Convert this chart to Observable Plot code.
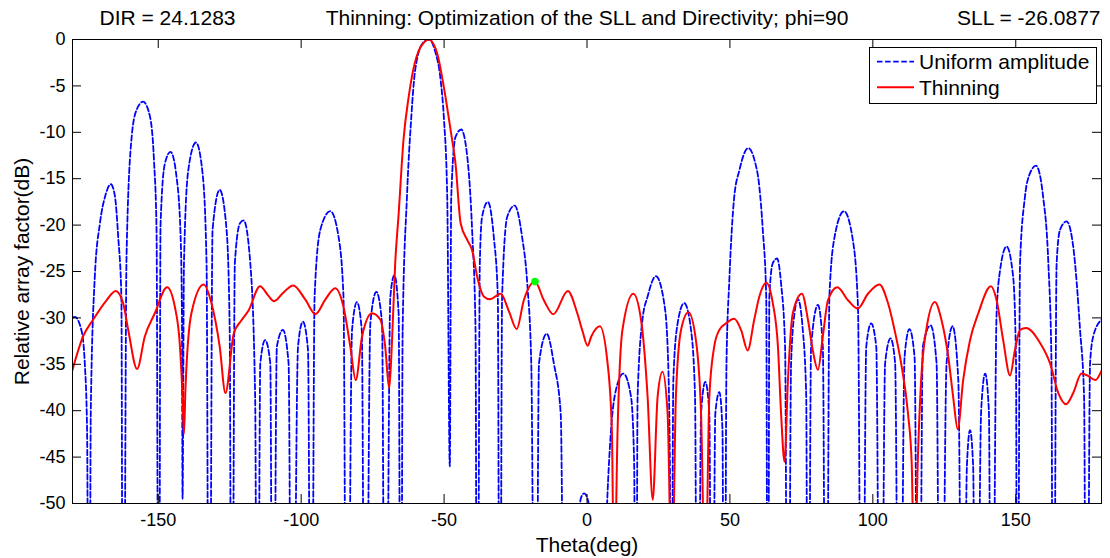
<!DOCTYPE html>
<html>
<head>
<meta charset="utf-8">
<script src="https://cdn.jsdelivr.net/npm/d3@7"></script>
<script src="https://cdn.jsdelivr.net/npm/@observablehq/plot@0.6"></script>
<style>
  html, body { margin: 0; padding: 0; background: #ffffff; }
  #wrap { position: relative; width: 1110px; height: 558px; font-family: "Liberation Sans", Arial, sans-serif; }
  #legend { position: absolute; left: 869px; top: 47px; }
</style>
</head>
<body>
<div id="wrap"></div>
<script>
// ---- Text ----
const titleText = "Thinning: Optimization of the SLL and Directivity; phi=90";
const dirText = "DIR = 24.1283";
const sllText = "SLL = -26.0877";
const xLabel = "Theta(deg)";
const yLabel = "Relative array factor(dB)";
const seriesNames = ["Uniform amplitude", "Thinning"];

// ---- Ticks ----
const xTicks = [-150, -100, -50, 0, 50, 100, 150];
const yTicks = [0, -5, -10, -15, -20, -25, -30, -35, -40, -45, -50];

// ---- Series: [theta (deg), relative array factor (dB)]; -90 = null below the axis ----
const uniform = [
  [-180,-30.0],[-179.2,-29.9],[-176.9,-31.3],[-175.7,-34.9],[-174.9,-42.1],[-174.2,-90],
  [-173.6,-40],[-172.2,-25.6],[-170.4,-19.8],[-168.5,-16.8],[-166.6,-15.6],[-165.2,-16.8],[-164.0,-21.3],[-162.9,-27.7],[-162.3,-90],
  [-161.1,-23.4],[-159.3,-10.5],[-157.6,-7.6],[-155.3,-6.7],[-152.9,-8.3],[-151.5,-13.0],[-150.6,-20.5],[-149.8,-90],
  [-149.2,-20.0],[-147.7,-13.4],[-145.7,-12.1],[-143.6,-14.8],[-142.2,-21.0],[-141.7,-30.0],[-141.5,-49.5],
  [-141.0,-24.1],[-139.5,-14.1],[-136.8,-11.1],[-134.5,-14.4],[-133.1,-24.1],[-132.2,-90],
  [-131.0,-20.5],[-128.5,-16.2],[-126.1,-20.5],[-125.0,-31.3],[-124.3,-90],
  [-123.2,-24.1],[-121.4,-19.8],[-120.1,-19.5],[-117.8,-24.1],[-116.1,-38.5],[-115.3,-90],
  [-114.3,-34.9],[-112.6,-32.4],[-110.8,-34.9],[-109.9,-90],
  [-108.5,-33.1],[-106.4,-31.3],[-104.4,-34.9],[-103.2,-90],
  [-101.1,-33.1],[-99.4,-30.4],[-97.6,-33.5],[-96.5,-90],
  [-95.3,-27.7],[-93.3,-20.5],[-89.8,-18.5],[-86.9,-21.3],[-85.2,-27.7],[-84.0,-90],
  [-82.2,-31.3],[-80.5,-28.3],[-78.8,-31.3],[-77.6,-90],
  [-75.8,-30.6],[-73.7,-27.2],[-71.7,-30.6],[-70.6,-90],
  [-68.8,-27.7],[-67.4,-25.4],[-65.9,-29.5],[-65.1,-90],
  [-64.5,-31.3],[-63.0,-17.0],[-61.5,-8.5],[-60.2,-3.5],[-57.5,-0.4],[-55.3,0],[-53.2,-1.2],[-51.2,-4.4],[-50.1,-8.3],[-48.9,-17.0],[-48.0,-46.0],
  [-47.5,-17.0],[-46.0,-10.5],[-44.0,-9.7],[-41.9,-12.6],[-40.2,-20.5],[-39.0,-31.3],[-38.4,-90],
  [-37.5,-24.1],[-36.7,-19.1],[-34.7,-17.5],[-32.6,-21.3],[-31.2,-27.7],[-30.5,-90],
  [-29.7,-27.7],[-27.9,-19.1],[-25.3,-17.9],[-22.7,-21.3],[-20.9,-26.3],[-19.5,-34.9],[-18.0,-90],
  [-16.8,-34.9],[-14.1,-31.7],[-11.6,-34.9],[-9.2,-40.3],[-7.5,-90],
  [-2.9,-52],[-2.2,-49.5],[-1.0,-48.9],[0.2,-49.5],[1.2,-52],[4.0,-90],
  [6.8,-52],[8.4,-42.1],[10.1,-37.8],[12.7,-36.0],[15.4,-38.5],[16.5,-45.7],[17.1,-90],
  [17.7,-38.5],[19.4,-30.2],[21.2,-27.7],[24.1,-25.5],[27.0,-28.4],[28.2,-33.1],[29.0,-45.7],[29.4,-90],
  [30.2,-36.7],[31.7,-30.6],[34.0,-28.4],[36.4,-31.3],[37.8,-38.5],[38.7,-90],
  [39.9,-40.3],[41.4,-36.9],[42.8,-40.3],[43.7,-90],
  [44.9,-40.3],[46.3,-38.0],[47.4,-42.1],[48.0,-90],
  [48.8,-34.9],[49.8,-25.9],[51.5,-17.0],[53.3,-14.1],[56.4,-11.7],[58.6,-13.0],[60.3,-15.9],[61.5,-20.5],[62.7,-27.7],[63.3,-90],
  [63.8,-27.7],[65.0,-24.1],[66.5,-23.6],[67.9,-26.3],[69.3,-33.1],[70.3,-90],
  [71.4,-34.9],[72.6,-29.5],[73.8,-28.0],[75.5,-31.3],[76.7,-38.5],[77.3,-90],
  [78.4,-33.1],[80.8,-28.6],[82.5,-33.1],[83.7,-90],
  [84.8,-27.7],[86.6,-21.3],[89.9,-18.5],[93.0,-21.6],[94.8,-28.8],[96.2,-90],
  [97.7,-33.1],[99.4,-30.6],[101.2,-33.1],[102.7,-90],
  [104.3,-34.9],[106.2,-32.2],[107.8,-34.9],[109.3,-90],
  [111.1,-34.2],[112.8,-31.2],[114.6,-34.2],[116.0,-90],
  [117.5,-33.1],[120.2,-30.8],[122.3,-34.9],[123.7,-90],
  [125.8,-34.9],[127.9,-30.9],[129.9,-36.7],[131.6,-90],
  [132.9,-46],[134.0,-42.1],[135.1,-46],[136.1,-90],
  [137.9,-40],[139.3,-36.0],[140.6,-40],[141.5,-90],
  [143.3,-29.5],[144.5,-24.9],[146.8,-22.3],[149.1,-25.6],[150.1,-34.9],[150.5,-90],
  [151.5,-24.1],[153.2,-17.0],[155.0,-14.4],[157.1,-13.6],[159.6,-17.0],[161.4,-24.1],[162.5,-34.9],[163.1,-90],
  [164.3,-24.1],[165.5,-20.5],[167.8,-19.6],[170.1,-22.3],[172.5,-31.3],[173.9,-38.5],[174.8,-90],
  [176.0,-34.9],[177.1,-32.0],[180,-30.2]
];

const thinning = [
  [-180,-35.6],[-176.3,-32.0],[-172.8,-30.2],[-168.1,-28.1],[-164.9,-27.1],[-162.3,-28.4],[-160.5,-31.3],[-157.4,-35.5],
  [-154.7,-32.0],[-151.2,-29.5],[-146.9,-26.7],[-144.2,-28.8],[-142.4,-33.1],[-141.5,-38.5],[-141.0,-42.5],[-140.5,-37.8],
  [-138.4,-29.5],[-134.1,-26.4],[-131.4,-28.4],[-128.5,-33.1],[-126.5,-38.1],[-123.6,-31.7],[-121.0,-30.3],[-118.4,-29.2],
  [-114.4,-26.6],[-111.5,-27.6],[-109.5,-28.2],[-106.0,-27.2],[-102.8,-26.5],[-98.6,-28.0],[-95.0,-29.6],[-91.5,-28.0],
  [-88.1,-26.8],[-85.2,-28.8],[-82.8,-33.1],[-80.9,-36.7],[-78.7,-32.0],[-75.2,-29.5],[-72.3,-30.2],[-70.6,-33.1],
  [-69.2,-37.6],[-68.3,-33.1],[-67.1,-24.1],[-65.9,-18.8],[-64.2,-10.8],[-62.4,-6.2],[-60.3,-2.6],[-59.0,-1.3],
  [-57.0,-0.3],[-55.3,0],[-53.5,-0.6],[-52.4,-1.5],[-50.1,-5.1],[-47.7,-9.8],[-46.0,-13.4],[-44.2,-19.8],
  [-41.9,-21.6],[-40.2,-22.7],[-38.4,-25.6],[-36.1,-27.7],[-34.0,-28.0],[-30.2,-27.4],[-27.3,-29.3],[-24.6,-31.2],
  [-22.1,-28.1],[-18.2,-26.09],[-15.1,-28.1],[-11.8,-29.6],[-6.7,-27.1],[-3.4,-29.5],[-1.5,-31.5],[0.2,-33.0],
  [1.5,-32.0],[4.5,-30.9],[7.2,-34.9],[8.7,-42.1],[9.5,-60],[10.7,-42.1],[12.4,-31.3],[16.2,-27.4],
  [18.9,-30.2],[21.2,-38.5],[23.0,-49.6],[24.7,-38.5],[26.4,-35.8],[28.2,-40.3],[29.7,-60],[31.1,-38.5],
  [32.9,-31.3],[35.5,-29.4],[38.1,-32.4],[39.9,-40.3],[41.4,-60],[42.8,-38.5],[44.5,-33.1],[46.3,-31.3],
  [48.6,-30.6],[51.5,-30.1],[53.9,-31.3],[56.2,-33.5],[58.5,-30.2],[60.3,-27.7],[62.7,-26.2],[65.0,-28.4],
  [66.8,-33.1],[67.9,-40.3],[69.1,-45.5],[70.3,-36.7],[72.0,-29.5],[75.2,-27.4],[77.3,-30.2],[79.0,-33.5],
  [80.8,-35.6],[82.5,-32.0],[84.3,-28.1],[87.6,-26.7],[91.3,-28.1],[94.7,-29.0],[98.3,-27.4],[102.3,-26.4],
  [105.3,-28.4],[107.6,-31.3],[109.9,-34.9],[112.3,-40.3],[113.6,-45.7],[114.6,-60],[115.7,-45.7],[116.9,-36.7],
  [118.7,-31.3],[121.7,-28.3],[124.0,-30.2],[126.4,-34.2],[128.1,-38.5],[129.7,-42.0],[131.6,-36.7],[134.0,-32.4],
  [136.9,-29.5],[141.3,-26.6],[143.3,-28.1],[145.6,-32.4],[148.0,-36.2],[149.7,-33.5],[151.5,-31.3],[153.6,-31.1],
  [158.5,-32.7],[162.0,-34.9],[164.9,-38.1],[167.6,-39.3],[170.1,-38.1],[173.0,-36.0],[175.0,-36.2],[177.8,-36.7],
  [180,-35.7]
];

const sllPoint = [[-18.2, -26.0877]];

// ---- Layout ----
const FONT = '"Liberation Sans", Arial, sans-serif';
const W = 1110, H = 558;
const mT = 39, mB = 55, mL = 72, mR = 9;
const plotW = W - mL - mR, plotH = H - mT - mB;
const TK = 9;
const BLUE = "#0000ff", RED = "#ff0000", GREEN = "#00ff00";
const DASH = "5.5,2.6";
const LABEL_SIZE = 21;

const chart = Plot.plot({
  width: W, height: H,
  marginTop: mT, marginBottom: mB, marginLeft: mL, marginRight: mR,
  style: { fontFamily: FONT, fontSize: "18px", background: "#ffffff", color: "#000000", overflow: "visible" },
  x: { domain: [-180, 180] },
  y: { domain: [-50, 0] },
  marks: [
    Plot.line(uniform, { x: d => d[0], y: d => d[1], stroke: BLUE, strokeWidth: 1.8, strokeDasharray: DASH, curve: "monotone-x", clip: true }),
    Plot.line(thinning, { x: d => d[0], y: d => d[1], stroke: RED, strokeWidth: 2, curve: "monotone-x", clip: true }),
    Plot.dot(sllPoint, { x: d => d[0], y: d => d[1], r: 3.8, fill: GREEN, stroke: "none" }),
    Plot.frame({ stroke: "#000000", strokeWidth: 1 }),
    Plot.tickX(xTicks, { x: d => d, insetTop: plotH - TK, stroke: "#000" }),
    Plot.tickX(xTicks, { x: d => d, insetBottom: plotH - TK, stroke: "#000" }),
    Plot.tickY(yTicks, { y: d => d, insetRight: plotW - TK, stroke: "#000" }),
    Plot.tickY(yTicks, { y: d => d, insetLeft: plotW - TK, stroke: "#000" }),
    Plot.axisX({ ticks: xTicks, tickSize: 0, tickPadding: 10, tickFormat: d => String(d), label: null, fontSize: 18 }),
    Plot.axisY({ ticks: yTicks, tickSize: 0, tickPadding: 7, tickFormat: d => String(d), label: null, fontSize: 18 }),
    Plot.text([xLabel], { text: d => d, frameAnchor: "bottom", textAnchor: "middle", lineAnchor: "middle", dy: 42, fontSize: LABEL_SIZE }),
    Plot.text([yLabel], { text: d => d, frameAnchor: "left", textAnchor: "middle", lineAnchor: "middle", rotate: -90, dx: -50, fontSize: LABEL_SIZE }),
    Plot.text([titleText], { text: d => d, frameAnchor: "top", textAnchor: "middle", lineAnchor: "middle", dy: -21, fontSize: LABEL_SIZE }),
    Plot.text([dirText], { text: d => d, frameAnchor: "top-left", textAnchor: "start", lineAnchor: "middle", dx: 27, dy: -21, fontSize: LABEL_SIZE }),
    Plot.text([sllText], { text: d => d, frameAnchor: "top-right", textAnchor: "end", lineAnchor: "middle", dx: -1, dy: -21, fontSize: LABEL_SIZE })
  ]
});

const wrap = document.getElementById("wrap");
wrap.append(chart);

// ---- Legend (overlay, does not change layout) ----
const LW = 228, LH = 57;
const legend = d3.create("svg")
  .attr("id", "legend")
  .attr("width", LW).attr("height", LH)
  .style("font-family", FONT);
legend.append("rect").attr("x", 0.5).attr("y", 0.5).attr("width", LW - 1).attr("height", LH - 1)
  .attr("fill", "#fff").attr("stroke", "#000");
const rows = [
  { name: seriesNames[0], color: BLUE, dash: DASH, sw: 1.8, y: 14.7 },
  { name: seriesNames[1], color: RED, dash: null, sw: 2, y: 40.3 }
];
for (const r of rows) {
  legend.append("line").attr("x1", 8).attr("x2", 45).attr("y1", r.y).attr("y2", r.y)
    .attr("stroke", r.color).attr("stroke-width", r.sw).attr("stroke-dasharray", r.dash);
  legend.append("text").attr("x", 50).attr("y", r.y).attr("dy", "0.35em")
    .attr("font-size", LABEL_SIZE).attr("fill", "#000").text(r.name);
}
wrap.append(legend.node());
</script>
</body>
</html>
